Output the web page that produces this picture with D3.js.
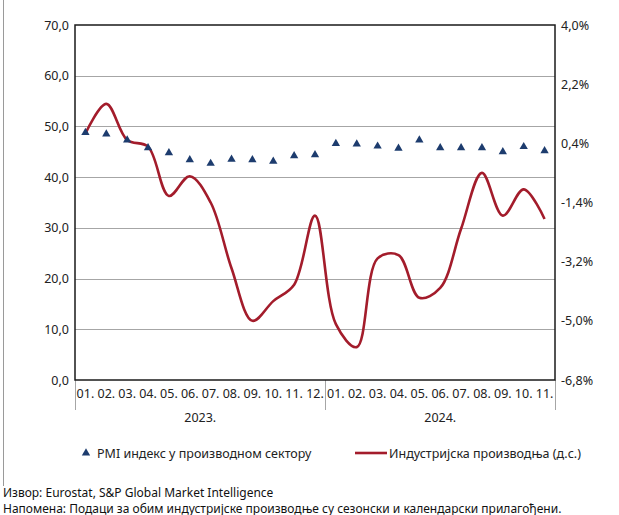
<!DOCTYPE html>
<html>
<head>
<meta charset="utf-8">
<script src="https://cdn.jsdelivr.net/npm/d3@7"></script>
<style>
  body { margin: 0; background: #fff; }
  svg { display: block; font-family: "Noto Sans", "Open Sans", sans-serif; }
</style>
</head>
<body>
<svg id="chart" width="619" height="515"></svg>
<script>
// month labels (2023: 01-12, 2024: 01-11)
var months = ["01.","02.","03.","04.","05.","06.","07.","08.","09.","10.","11.","12.",
              "01.","02.","03.","04.","05.","06.","07.","08.","09.","10.","11."];
var years = ["2023.", "2024."];
var yearCounts = [12, 11];

// PMI manufacturing index (left axis)
var pmi = [48.8, 48.5, 47.3, 45.8, 44.8, 43.4, 42.7, 43.5, 43.4, 43.1, 44.2, 44.4,
           46.6, 46.5, 46.1, 45.7, 47.3, 45.8, 45.8, 45.8, 45.0, 46.0, 45.2];

// industrial production, % (right axis)
var indProd = [0.7, 1.6, 0.5, 0.3, -1.2, -0.6, -1.4, -3.4, -5.0, -4.4, -3.9, -1.8,
               -5.1, -5.8, -3.1, -3.0, -4.3, -4.0, -2.2, -0.5, -1.8, -1.0, -1.9];

var leftTicks = [0, 10, 20, 30, 40, 50, 60, 70];
var rightTicks = [-6.8, -5.0, -3.2, -1.4, 0.4, 2.2, 4.0];

var margin = {top: 25, left: 75, right: 64, bottom: 135};
var width = 619, height = 515;
var w = width - margin.left - margin.right,
    h = height - margin.top - margin.bottom;

var svg = d3.select("#chart");

// outer frame line on the left
svg.append("line").attr("x1", 3.5).attr("x2", 3.5).attr("y1", 0).attr("y2", 486)
   .attr("stroke", "#9a9a9a").attr("stroke-width", 1);

var g = svg.append("g").attr("transform", "translate(" + margin.left + "," + margin.top + ")");

var x = d3.scaleBand().domain(d3.range(months.length)).range([0, w]);
var yL = d3.scaleLinear().domain([0, 70]).range([h, 0]);
var yR = d3.scaleLinear().domain([-6.8, 4.0]).range([h, 0]);

var fmt = function(v) { return d3.format(".1f")(v).replace(".", ",").replace("−", "-"); };

// grid
g.selectAll(".grid").data(leftTicks.slice(1, -1)).enter().append("line")
  .attr("x1", 0).attr("x2", w)
  .attr("y1", d => Math.round(yL(d)) + 0.5).attr("y2", d => Math.round(yL(d)) + 0.5)
  .attr("stroke", "#a6a6a6").attr("stroke-width", 1);

// left axis
var axL = g.append("g").call(d3.axisLeft(yL).tickValues(leftTicks).tickSize(0).tickPadding(6).tickFormat(fmt));
axL.select(".domain").remove();
axL.selectAll("text").attr("font-size", 12.5).attr("fill", "#222").style("font-family", "Noto Sans");

// right axis
var axR = g.append("g").attr("transform", "translate(" + w + ",0)")
  .call(d3.axisRight(yR).tickValues(rightTicks).tickSize(0).tickPadding(6).tickFormat(d => fmt(d) + "%"));
axR.select(".domain").remove();
axR.selectAll("text").attr("font-size", 12.5).attr("fill", "#222").style("font-family", "Noto Sans");

// category labels
var axB = g.append("g").attr("transform", "translate(0," + h + ")")
  .call(d3.axisBottom(x).tickSize(0).tickPadding(9).tickFormat(i => months[i]));
axB.select(".domain").remove();
axB.selectAll("text").attr("font-size", 12.5).attr("fill", "#222").style("font-family", "Noto Sans");

// year separators and labels
var start = 0;
var bounds = [0];
yearCounts.forEach(function(c) { start += c; bounds.push(start); });
g.selectAll(".sep").data(bounds).enter().append("line")
  .attr("x1", d => Math.round(d === months.length ? w : x(d)) + 0.5)
  .attr("x2", d => Math.round(d === months.length ? w : x(d)) + 0.5)
  .attr("y1", h).attr("y2", h + 30)
  .attr("stroke", "#a6a6a6").attr("stroke-width", 1);

g.selectAll(".year").data(years).enter().append("text")
  .attr("x", (d, i) => {
    var a = x(bounds[i]), b = bounds[i + 1] === months.length ? w : x(bounds[i + 1]);
    return (a + b) / 2;
  })
  .attr("y", h + 42)
  .attr("text-anchor", "middle").attr("font-size", 12.5).attr("fill", "#222")
  .text(d => d);

// plot frame
g.append("rect").attr("x", 0).attr("y", 0).attr("width", w).attr("height", h)
  .attr("fill", "none").attr("stroke", "#1a1a1a").attr("stroke-width", 1.5);

var cx = i => x(i) + x.bandwidth() / 2;

// industrial production line
var line = d3.line().x((d, i) => cx(i)).y(d => yR(d)).curve(d3.curveCatmullRom.alpha(0.5));
g.append("path").datum(indProd).attr("d", line)
  .attr("fill", "none").attr("stroke", "#a31c2b").attr("stroke-width", 2.6);

// PMI markers
var tri = d3.symbol().type(d3.symbolTriangle).size(30);
g.selectAll(".pmi").data(pmi).enter().append("path")
  .attr("d", tri)
  .attr("transform", (d, i) => "translate(" + cx(i) + "," + yL(d) + ")")
  .attr("fill", "#1d3c6e");

// legend
var lg = svg.append("g");
lg.append("path").attr("d", tri).attr("transform", "translate(86,453)").attr("fill", "#1d3c6e");
lg.append("text").attr("x", 97).attr("y", 457.5).attr("font-size", 12.5).attr("fill", "#222")
  .text("PMI индекс у производном сектору");
lg.append("line").attr("x1", 355).attr("x2", 387).attr("y1", 453).attr("y2", 453)
  .attr("stroke", "#a31c2b").attr("stroke-width", 2.6);
lg.append("text").attr("x", 389).attr("y", 457.5).attr("font-size", 12.5).attr("fill", "#222")
  .text("Индустријска производња (д.с.)");

// notes
svg.append("text").attr("x", 3).attr("y", 497).attr("font-size", 12).attr("fill", "#111")
  .text("Извор: Eurostat, S&P Global Market Intelligence");
svg.append("text").attr("x", 3).attr("y", 513).attr("font-size", 12).attr("fill", "#111")
  .text("Напомена: Подаци за обим индустријске производње су сезонски и календарски прилагођени.");
</script>
</body>
</html>
